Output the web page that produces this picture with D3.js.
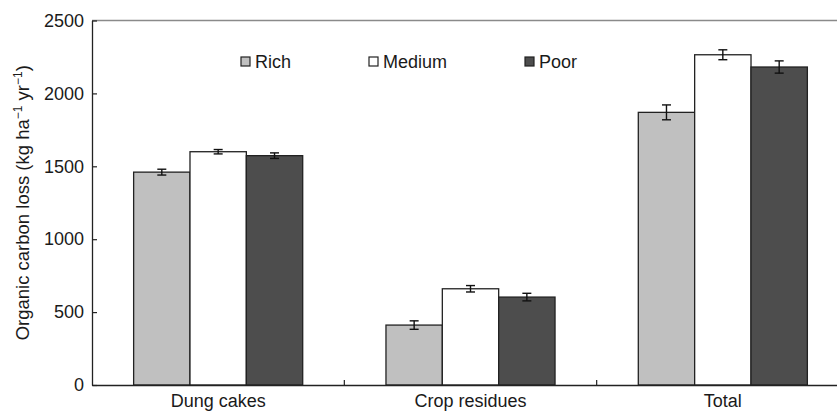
<!DOCTYPE html>
<html>
<head>
<meta charset="utf-8">
<script src="https://cdn.jsdelivr.net/npm/d3@7"></script>
<style>
  html, body { margin: 0; padding: 0; background: #fff; }
  text { font-family: "Liberation Sans", Arial, Helvetica, sans-serif; fill: #1a1a1a; }
</style>
</head>
<body>
<svg id="chart" width="837" height="412"></svg>
<script>
// Organic carbon loss by source and household category
const categories = ["Dung cakes", "Crop residues", "Total"];
const groups = ["Rich", "Medium", "Poor"];
const richValues   = [1460, 411, 1870];
const mediumValues = [1600, 660, 2265];
const poorValues   = [1573, 603, 2181];
const richErrors   = [20, 29, 51];
const mediumErrors = [15, 22, 34];
const poorErrors   = [19, 26, 42];
const yTicks = [0, 500, 1000, 1500, 2000, 2500];
const groupColors = ["#c0c0c0", "#ffffff", "#4d4d4d"];

const values = [richValues, mediumValues, poorValues];
const errors = [richErrors, mediumErrors, poorErrors];

const svg = d3.select("#chart");
const margin = { left: 92, top: 20.5, right: -12, bottom: 27 };
const W = 837, H = 412;
const plotW = W - margin.left - margin.right;
const plotH = H - margin.top - margin.bottom;

const g = svg.append("g").attr("transform", `translate(${margin.left},${margin.top})`);

const x0 = d3.scaleBand().domain(categories).range([0, plotW]).paddingInner(0).paddingOuter(0);
const x1 = d3.scaleBand().domain(groups).range([0, x0.bandwidth() * 0.67]).padding(0);
const groupOffset = (x0.bandwidth() - x0.bandwidth() * 0.67) / 2;
const y = d3.scaleLinear().domain([0, 2500]).range([plotH, 0]);

// top frame line
g.append("line")
  .attr("x1", 0).attr("x2", plotW).attr("y1", 0).attr("y2", 0)
  .attr("stroke", "#8a8a8a").attr("stroke-width", 1.5);

// bars
const rows = [];
categories.forEach((c, ci) => {
  groups.forEach((gr, gi) => {
    rows.push({ cat: c, grp: gr, gi, v: values[gi][ci], e: errors[gi][ci] });
  });
});

g.selectAll("rect.bar").data(rows).enter().append("rect")
  .attr("class", "bar")
  .attr("x", d => x0(d.cat) + groupOffset + x1(d.grp))
  .attr("y", d => y(d.v))
  .attr("width", x1.bandwidth())
  .attr("height", d => y(0) - y(d.v))
  .attr("fill", d => groupColors[d.gi])
  .attr("stroke", "#222")
  .attr("stroke-width", 1.3);

// error bars
const capW = 4.5;
const eb = g.selectAll("g.err").data(rows).enter().append("g").attr("class", "err")
  .attr("transform", d => `translate(${x0(d.cat) + groupOffset + x1(d.grp) + x1.bandwidth() / 2},0)`);
eb.append("line").attr("x1", 0).attr("x2", 0)
  .attr("y1", d => y(d.v + d.e)).attr("y2", d => y(d.v - d.e));
eb.append("line").attr("x1", -capW).attr("x2", capW)
  .attr("y1", d => y(d.v + d.e)).attr("y2", d => y(d.v + d.e));
eb.append("line").attr("x1", -capW).attr("x2", capW)
  .attr("y1", d => y(d.v - d.e)).attr("y2", d => y(d.v - d.e));
eb.selectAll("line").attr("stroke", "#111").attr("stroke-width", 1.4);

// y axis
const yAxis = g.append("g")
  .call(d3.axisLeft(y).tickValues(yTicks).tickFormat(d3.format("d"))
    .tickSizeInner(-5).tickSizeOuter(0).tickPadding(8));
yAxis.select(".domain").attr("stroke", "#222").attr("stroke-width", 1.3);
yAxis.selectAll(".tick line").attr("stroke", "#222").attr("stroke-width", 1.2);
yAxis.selectAll(".tick text").attr("font-size", "18px").attr("font-family", null).attr("fill", "#1a1a1a");

// x axis
const xAxis = g.append("g").attr("transform", `translate(0,${plotH})`)
  .call(d3.axisBottom(x0).tickSize(0).tickPadding(9));
xAxis.select(".domain").attr("stroke", "#222").attr("stroke-width", 1.3);
xAxis.selectAll(".tick text").attr("font-size", "18px").attr("font-family", null).attr("fill", "#1a1a1a");

// category separators on the x axis
g.selectAll("line.sep").data(categories.slice(1)).enter().append("line")
  .attr("class", "sep")
  .attr("x1", d => x0(d)).attr("x2", d => x0(d))
  .attr("y1", plotH).attr("y2", plotH - 5)
  .attr("stroke", "#222").attr("stroke-width", 1.2);

// y axis title
const yTitle = svg.append("text")
  .attr("transform", `translate(29,${margin.top + plotH / 2}) rotate(-90)`)
  .attr("text-anchor", "middle")
  .attr("font-size", "18.5px");
yTitle.append("tspan").text("Organic carbon loss (kg ha");
yTitle.append("tspan").attr("dy", -7).attr("font-size", "12px").text("\u22121");
yTitle.append("tspan").attr("dy", 7).text(" yr");
yTitle.append("tspan").attr("dy", -7).attr("font-size", "12px").text("\u22121");
yTitle.append("tspan").attr("dy", 7).text(")");

// legend
const legendX = [241, 369, 525];
const legend = g.selectAll("g.leg").data(groups).enter().append("g").attr("class", "leg")
  .attr("transform", (d, i) => `translate(${legendX[i] - margin.left},${57 - margin.top})`);
legend.append("rect").attr("width", 9).attr("height", 9)
  .attr("fill", (d, i) => groupColors[i]).attr("stroke", "#222").attr("stroke-width", 1.2);
legend.append("text").attr("x", 14).attr("y", 10.5).attr("font-size", "18px").text(d => d);
</script>
</body>
</html>
